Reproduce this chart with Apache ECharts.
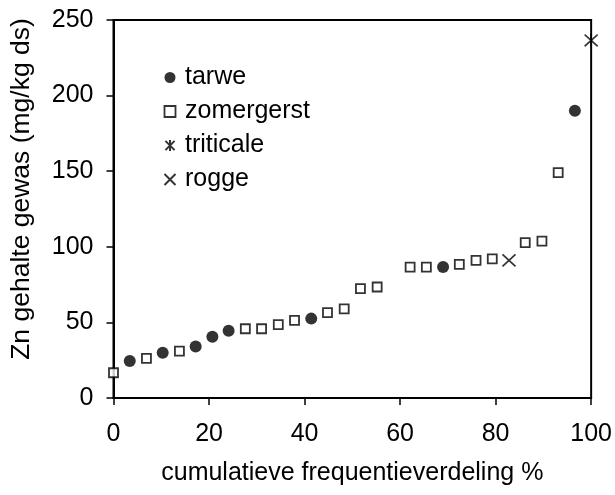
<!DOCTYPE html>
<html>
<head>
<meta charset="utf-8">
<script src="https://cdn.jsdelivr.net/npm/echarts@6/dist/echarts.min.js"></script>
<style>html,body{margin:0;padding:0;background:#fff;}#c{width:615px;height:495px;}</style>
</head>
<body>
<div id="c"></div>
<script>
var seriesNames = ['tarwe', 'zomergerst', 'triticale', 'rogge'];
var tarwe = [[3.4,24.5],[10.3,30],[17.2,34],[20.7,40.5],[24.1,44.5],[41.4,52.5],[69,86.6],[96.6,190]];
var zomergerst = [[0,16.7],[6.9,26.2],[13.8,31],[27.6,45.8],[31,45.8],[34.5,48.5],[37.9,51.4],[44.8,56.4],[48.3,59],[51.7,72.3],[55.2,73.4],[62.1,86.6],[65.5,86.6],[72.4,88.4],[75.9,91],[79.3,92],[86.2,102.7],[89.7,103.8],[93.1,149]];
var triticale = [[100,236.5]];
var rogge = [[82.8,91]];
var xTicks = [0, 20, 40, 60, 80, 100];
var yTicks = [0, 50, 100, 150, 200, 250];
var xTitle = 'cumulatieve frequentieverdeling %';
var yTitle = 'Zn gehalte gewas (mg/kg ds)';

var FONT = 'Liberation Sans, Arial, sans-serif';
var crossPath = 'path://M0,0L10,10M10,0L0,10';
var starPath = 'path://M0,1L10,11M10,1L0,11M5,0L5,12';
var squarePath = 'path://M0,0L10,0L10,10L0,10Z';

var chart = echarts.init(document.getElementById('c'), null, {renderer: 'canvas'});
chart.setOption({
  animation: false,
  backgroundColor: '#fff',
  textStyle: {fontFamily: FONT, color: '#000'},
  grid: {left: 113.5, right: 23, top: 20, bottom: 97, show: true, borderColor: '#000', borderWidth: 2, containLabel: false},
  legend: {
    orient: 'vertical', left: 157, top: 60, itemGap: 9, itemWidth: 20, itemHeight: 11,
    symbolKeepAspect: true,
    textStyle: {fontSize: 25, fontFamily: FONT, color: '#000'},
    data: [
      {name: seriesNames[0]},
      {name: seriesNames[1], icon: squarePath, itemStyle: {color: '#fff', borderColor: '#000', borderWidth: 1.8}},
      {name: seriesNames[2]},
      {name: seriesNames[3]}
    ]
  },
  xAxis: {
    type: 'value', min: xTicks[0], max: xTicks[xTicks.length - 1], interval: 20,
    name: xTitle, nameLocation: 'middle', nameGap: 63,
    nameTextStyle: {fontSize: 25, fontFamily: FONT, color: '#000'},
    axisLine: {lineStyle: {color: '#000', width: 2}},
    axisTick: {show: true, length: 7, inside: false, lineStyle: {color: '#000', width: 1.5}},
    axisLabel: {fontSize: 25, fontFamily: FONT, color: '#000', margin: 24},
    splitLine: {show: false}
  },
  yAxis: {
    type: 'value', min: yTicks[0], max: yTicks[yTicks.length - 1], interval: 50,
    name: yTitle, nameLocation: 'middle', nameGap: 78, nameRotate: 90,
    nameTextStyle: {fontSize: 26.5, fontFamily: FONT, color: '#000', padding: [0, 0, 0, 40]},
    axisLine: {show: true, lineStyle: {color: '#000', width: 2}},
    axisTick: {show: true, length: 7, inside: false, lineStyle: {color: '#000', width: 1.5}},
    axisLabel: {fontSize: 25, fontFamily: FONT, color: '#000', margin: 20},
    splitLine: {show: false}
  },
  series: [
    {name: 'tarwe', type: 'scatter', clip: false, data: tarwe, symbol: 'circle', symbolSize: 12,
     itemStyle: {color: '#000', borderWidth: 0}},
    {name: 'zomergerst', type: 'scatter', clip: false, data: zomergerst, symbol: squarePath, symbolSize: 9,
     symbolKeepAspect: true,
     itemStyle: {color: '#fff', borderColor: '#000', borderWidth: 1.8}},
    {name: 'triticale', type: 'scatter', clip: false, data: triticale, symbol: starPath, symbolSize: [13, 14],
     itemStyle: {color: 'none', borderColor: '#000', borderWidth: 1.6}},
    {name: 'rogge', type: 'scatter', clip: false, data: rogge, symbol: crossPath, symbolSize: [13, 12],
     itemStyle: {color: 'none', borderColor: '#000', borderWidth: 1.6}}
  ]
});
</script>
</body>
</html>
